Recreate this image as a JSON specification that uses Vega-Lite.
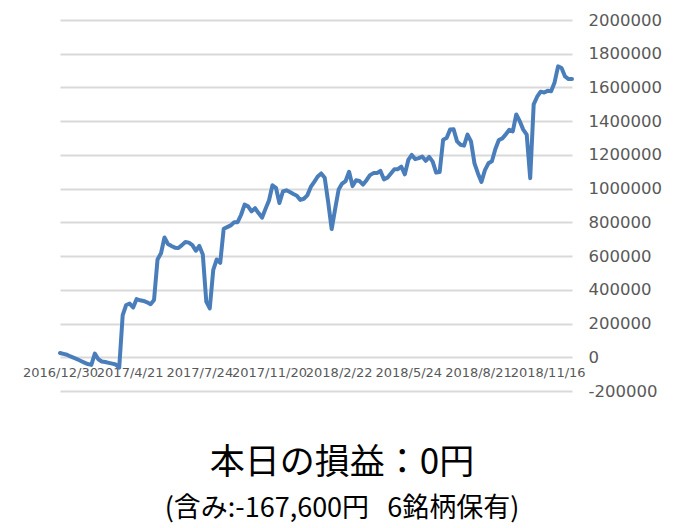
{
  "$schema": "https://vega.github.io/schema/vega-lite/v6.json",
  "width": 512,
  "height": 371,
  "autosize": {"type": "none"},
  "padding": {"left": 60, "top": 20, "right": 101, "bottom": 137},
  "background": "white",
  "config": {"view": {"stroke": null}},
  "title": {
    "text": "本日の損益：0円",
    "subtitle": "(含み:-167,600円\u00a0\u00a0\u00a06銘柄保有)",
    "orient": "bottom",
    "anchor": "middle",
    "frame": "bounds",
    "font": "Noto Sans CJK JP",
    "fontSize": 35,
    "fontWeight": "normal",
    "color": "#000000",
    "offset": 46,
    "subtitleFont": "Noto Sans CJK JP",
    "subtitleFontSize": 27,
    "subtitleColor": "#000000",
    "subtitlePadding": 15
  },
  "data": {
    "values": [
      {"n":0,"v":25000},{"n":1,"v":20000},{"n":2,"v":15000},{"n":3,"v":5000},{"n":4,"v":-3000},
      {"n":5,"v":-12000},{"n":6,"v":-22000},{"n":7,"v":-32000},{"n":8,"v":-40000},{"n":9,"v":-45000},
      {"n":10,"v":22000},{"n":11,"v":-12000},{"n":12,"v":-25000},{"n":13,"v":-28000},{"n":14,"v":-33000},
      {"n":15,"v":-38000},{"n":16,"v":-43000},{"n":17,"v":-62000},{"n":18,"v":250000},{"n":19,"v":310000},
      {"n":20,"v":318000},{"n":21,"v":295000},{"n":22,"v":345000},{"n":23,"v":338000},{"n":24,"v":334000},
      {"n":25,"v":326000},{"n":26,"v":315000},{"n":27,"v":340000},{"n":28,"v":580000},{"n":29,"v":617000},
      {"n":30,"v":710000},{"n":31,"v":672000},{"n":32,"v":660000},{"n":33,"v":650000},{"n":34,"v":648000},
      {"n":35,"v":665000},{"n":36,"v":684000},{"n":37,"v":680000},{"n":38,"v":665000},{"n":39,"v":632000},
      {"n":40,"v":660000},{"n":41,"v":610000},{"n":42,"v":330000},{"n":43,"v":290000},{"n":44,"v":518000},
      {"n":45,"v":580000},{"n":46,"v":560000},{"n":47,"v":762000},{"n":48,"v":772000},{"n":49,"v":782000},
      {"n":50,"v":800000},{"n":51,"v":801000},{"n":52,"v":845000},{"n":53,"v":905000},{"n":54,"v":895000},
      {"n":55,"v":865000},{"n":56,"v":884000},{"n":57,"v":855000},{"n":58,"v":828000},{"n":59,"v":880000},
      {"n":60,"v":930000},{"n":61,"v":1020000},{"n":62,"v":1005000},{"n":63,"v":915000},{"n":64,"v":983000},
      {"n":65,"v":990000},{"n":66,"v":980000},{"n":67,"v":968000},{"n":68,"v":958000},{"n":69,"v":933000},
      {"n":70,"v":940000},{"n":71,"v":960000},{"n":72,"v":1010000},{"n":73,"v":1040000},{"n":74,"v":1072000},
      {"n":75,"v":1090000},{"n":76,"v":1065000},{"n":77,"v":920000},{"n":78,"v":760000},{"n":79,"v":880000},
      {"n":80,"v":995000},{"n":81,"v":1030000},{"n":82,"v":1045000},{"n":83,"v":1100000},{"n":84,"v":1015000},
      {"n":85,"v":1050000},{"n":86,"v":1045000},{"n":87,"v":1024000},{"n":88,"v":1050000},{"n":89,"v":1080000},
      {"n":90,"v":1092000},{"n":91,"v":1092000},{"n":92,"v":1105000},{"n":93,"v":1055000},{"n":94,"v":1065000},
      {"n":95,"v":1090000},{"n":96,"v":1115000},{"n":97,"v":1115000},{"n":98,"v":1130000},{"n":99,"v":1085000},
      {"n":100,"v":1170000},{"n":101,"v":1200000},{"n":102,"v":1175000},{"n":103,"v":1181000},{"n":104,"v":1190000},
      {"n":105,"v":1165000},{"n":106,"v":1188000},{"n":107,"v":1160000},{"n":108,"v":1095000},{"n":109,"v":1098000},
      {"n":110,"v":1290000},{"n":111,"v":1300000},{"n":112,"v":1350000},{"n":113,"v":1352000},{"n":114,"v":1280000},
      {"n":115,"v":1260000},{"n":116,"v":1255000},{"n":117,"v":1320000},{"n":118,"v":1280000},{"n":119,"v":1150000},
      {"n":120,"v":1090000},{"n":121,"v":1040000},{"n":122,"v":1110000},{"n":123,"v":1150000},{"n":124,"v":1162000},
      {"n":125,"v":1235000},{"n":126,"v":1288000},{"n":127,"v":1298000},{"n":128,"v":1322000},{"n":129,"v":1349000},
      {"n":130,"v":1340000},{"n":131,"v":1440000},{"n":132,"v":1400000},{"n":133,"v":1350000},{"n":134,"v":1320000},
      {"n":135,"v":1062000},{"n":136,"v":1500000},{"n":137,"v":1545000},{"n":138,"v":1575000},{"n":139,"v":1570000},
      {"n":140,"v":1580000},{"n":141,"v":1578000},{"n":142,"v":1630000},{"n":143,"v":1725000},{"n":144,"v":1715000},
      {"n":145,"v":1665000},{"n":146,"v":1650000},{"n":147,"v":1650000}
    ]
  },
  "mark": {"type": "line", "color": "#4a7ebb", "strokeWidth": 4, "strokeJoin": "round", "strokeCap": "round", "clip": false},
  "encoding": {
    "x": {
      "field": "n",
      "type": "quantitative",
      "scale": {"domain": [0, 147], "nice": false, "zero": false},
      "axis": {
        "orient": "bottom",
        "offset": -34,
        "title": null,
        "values": [0, 20, 40, 60, 80, 100, 120, 140],
        "labelExpr": "['2016/12/30','2017/4/21','2017/7/24','2017/11/20','2018/2/22','2018/5/24','2018/8/21','2018/11/16'][round(datum.value/20)]",
        "grid": false,
        "domain": false,
        "ticks": false,
        "labelOverlap": false,
        "labelFlush": false,
        "labelPadding": 9,
        "labelFont": "DejaVu Sans",
        "labelFontSize": 13,
        "labelColor": "#595959"
      }
    },
    "y": {
      "field": "v",
      "type": "quantitative",
      "scale": {"domain": [-200000, 2000000], "nice": false},
      "axis": {
        "orient": "right",
        "title": null,
        "values": [-200000, 0, 200000, 400000, 600000, 800000, 1000000, 1200000, 1400000, 1600000, 1800000, 2000000],
        "labelExpr": "'' + datum.value",
        "grid": true,
        "gridColor": "#d9d9d9",
        "gridWidth": 2,
        "domain": false,
        "ticks": false,
        "labelPadding": 16,
        "labelFont": "DejaVu Sans",
        "labelFontSize": 16.5,
        "labelColor": "#595959"
      }
    }
  }
}
